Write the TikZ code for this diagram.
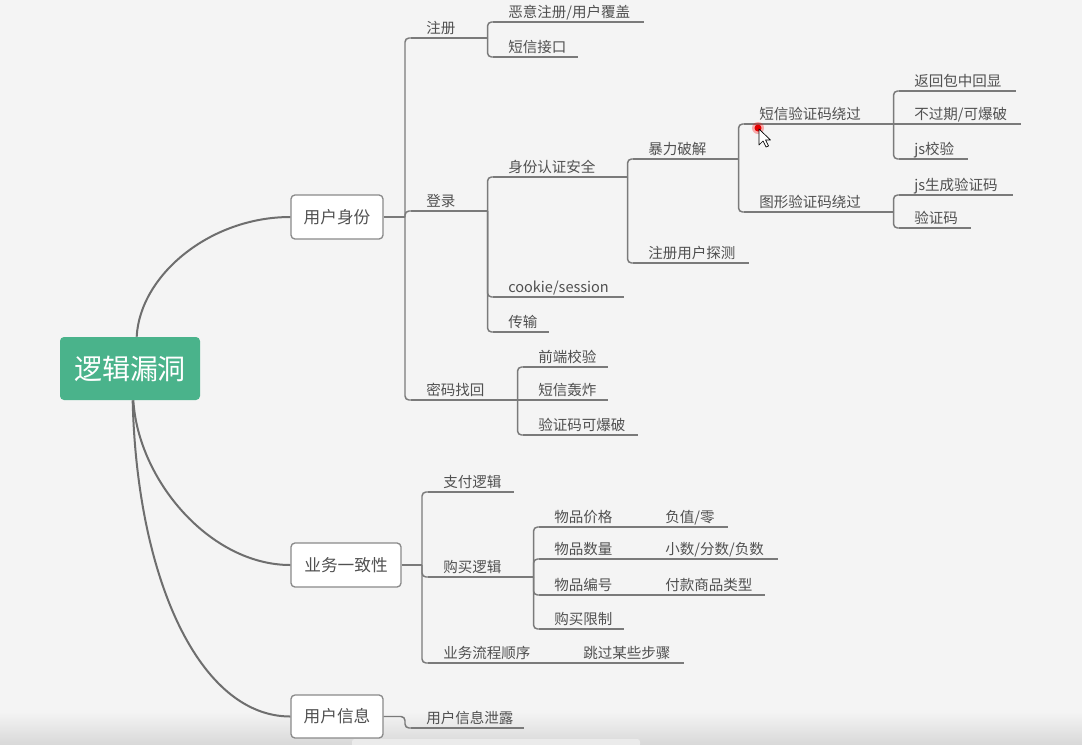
\documentclass[tikz,border=0pt]{standalone}
\usepackage{fontspec}
\setmainfont{Noto Sans CJK SC}
\newdimen\px \px=0.75pt
\definecolor{bgc}{HTML}{F4F4F4}
\definecolor{linec}{HTML}{7A7A7A}
\definecolor{curvec}{HTML}{6E6E6E}
\definecolor{txtc}{HTML}{505050}
\definecolor{boxc}{HTML}{8A8A8A}
\definecolor{rootc}{HTML}{4AB38B}
\begin{document}
\begin{tikzpicture}[x=0.75pt,y=-0.75pt,
  line/.style={draw=linec, line width=1.1pt},
  conn/.style={line, rounded corners=3pt},
  curve/.style={draw=curvec, line width=1.5pt},
  tp/.style={anchor=south west, inner xsep=0pt, inner ysep=4.5\px, text width=#1\px,
    align=left, text depth=0pt, font=\fontsize{10.9pt}{13pt}\selectfont, text=txtc,
    execute at begin node={\hspace*{15\px}}},
  box/.style={draw=boxc, line width=1pt, fill=white, rounded corners=3pt,
    minimum height=44\px, font=\fontsize{12.5pt}{15pt}\selectfont, text=txtc, inner sep=0pt},
  root/.style={fill=rootc, rounded corners=3pt, minimum width=140\px, minimum height=63\px,
    inner sep=0pt, text=white, font=\fontsize{21pt}{25pt}\selectfont}
]
\useasboundingbox (0,0) rectangle (1082,744);
\fill[bgc] (0,0) rectangle (1082,744);
\shade[top color=bgc, bottom color=black!15] (0,712) rectangle (1082,744);
\fill[black!8, rounded corners=2pt] (352,739) rectangle (640,747);

% main nodes
\node[root] (root) at (130,368.5) {逻辑漏洞};
\node[box, minimum width=92\px] (usb) at (337,217) {用户身份};
\node[box, minimum width=110\px] (ywy) at (346,565) {业务一致性};
\node[box, minimum width=92\px, minimum height=43\px] (yhx) at (337,716.5) {用户信息};

% topics
\node[tp=76] (zc) at (411,38) {注册};
\node[tp=76] (dl) at (411,211) {登录};
\node[tp=106] (mm) at (411,400) {密码找回};
\node[tp=150] (ey) at (493,22) {恶意注册/用户覆盖};
\node[tp=84] (dx) at (493,57) {短信接口};
\node[tp=134] (sf) at (493,177) {身份认证安全};
\node[tp=130] (ck) at (493,297) {cookie/session};
\node[tp=55] (cs) at (493,332) {传输};
\node[tp=105] (bl) at (633,159) {暴力破解};
\node[tp=115] (zt) at (633,263) {注册用户探测};
\node[tp=149] (dxy) at (744,124) {短信验证码绕过};
\node[tp=149] (tx) at (744,212) {图形验证码绕过};
\node[tp=116] (fh) at (899,91) {返回包中回显};
\node[tp=121] (bg) at (899,124) {不过期/可爆破};
\node[tp=68] (jsj) at (899,159) {js校验};
\node[tp=113] (jsg) at (899,195) {js生成验证码};
\node[tp=71] (yzm) at (899,228) {验证码};
\node[tp=84] (qd) at (523,367) {前端校验};
\node[tp=84] (hz) at (523,400) {短信轰炸};
\node[tp=114] (kb) at (523,435) {验证码可爆破};
\node[tp=85] (zf) at (428,492) {支付逻辑};
\node[tp=105] (gm) at (428,577) {购买逻辑};
\node[tp=134] (lc) at (428,663) {业务流程顺序};
\node[tp=115] (tg) at (568,663) {跳过某些步骤};
\node[tp=105] (jg) at (539,527) {物品价格};
\node[tp=105] (sl) at (539,559) {物品数量};
\node[tp=105] (bh) at (539,595) {物品编号};
\node[tp=84] (xz) at (539,629) {购买限制};
\node[tp=77] (fz) at (650,527) {负值/零};
\node[tp=127] (xs) at (650,559) {小数/分数/负数};
\node[tp=114] (fk) at (650,595) {付款商品类型};
\node[tp=112] (xl) at (411,728) {用户信息泄露};

\coordinate (j1) at (405,217);
\coordinate (j2) at (422,565);
\coordinate (j3) at (405,716.5);

% underlines
\foreach \n in {zc,dl,mm,ey,dx,sf,ck,cs,bl,zt,dxy,tx,fh,bg,jsj,jsg,yzm,qd,hz,kb,zf,gm,lc,tg,jg,sl,bh,xz,fz,xs,fk,xl}
  \draw[line] (\n.south west) -- (\n.south east);

% curves from root
\draw[curve] ([xshift=5pt]root.north) .. controls (140,275) and (210,217) .. (usb.west);
\draw[curve] ([xshift=2.5pt]root.south) .. controls (138,480) and (210,565) .. (ywy.west);
\draw[curve] ([xshift=2pt]root.south) .. controls (137,580) and (200,716.5) .. (yhx.west);

% connectors
\draw[line] (usb.east) -- (j1);
\foreach \c in {zc,dl,mm} \draw[conn] (j1) |- (\c.south west);
\foreach \c in {ey,dx} \draw[conn] (zc.south east) |- (\c.south west);
\foreach \c in {sf,ck,cs} \draw[conn] (dl.south east) |- (\c.south west);
\foreach \c in {bl,zt} \draw[conn] (sf.south east) |- (\c.south west);
\foreach \c in {dxy,tx} \draw[conn] (bl.south east) |- (\c.south west);
\foreach \c in {fh,jsj} \draw[conn] (dxy.south east) |- (\c.south west);
\draw[line] (dxy.south east) -- (bg.south west);
\foreach \c in {jsg,yzm} \draw[conn] (tx.south east) |- (\c.south west);
\foreach \c in {qd,kb} \draw[conn] (mm.south east) |- (\c.south west);
\draw[line] (mm.south east) -- (hz.south west);
\draw[line] (ywy.east) -- (j2);
\foreach \c in {zf,gm,lc} \draw[conn] (j2) |- (\c.south west);
\foreach \c in {jg,sl,bh,xz} \draw[conn] (gm.south east) |- (\c.south west);
\draw[line] (jg.south east) -- (fz.south west);
\draw[line] (sl.south east) -- (xs.south west);
\draw[line] (bh.south east) -- (fk.south west);
\draw[line] (lc.south east) -- (tg.south west);
\draw[conn] (yhx.east) -- (j3) |- (xl.south west);

% pointer highlight and cursor
\fill[red, opacity=0.3] (758,128) circle (6);
\fill[red!90!black] (758,128) circle (3.5);
\draw[black, fill=white, line width=0.5pt, line join=round]
  (759,129) -- (759,145) -- (763,141) -- (766,147) -- (768.5,146) -- (765.5,140) -- (770.5,140) -- cycle;
\end{tikzpicture}
\end{document}
